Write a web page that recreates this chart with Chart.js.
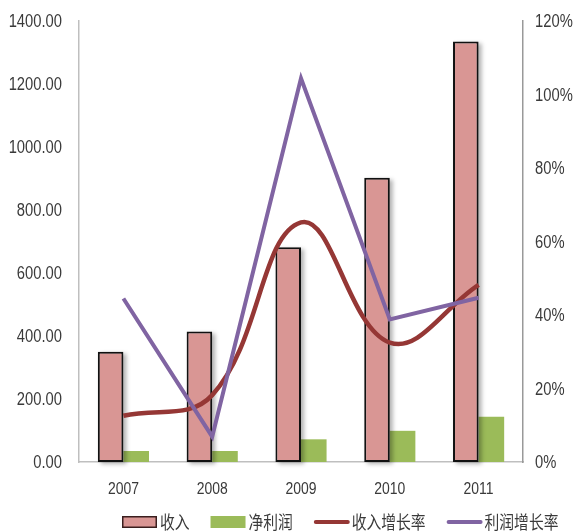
<!DOCTYPE html>
<html>
<head>
<meta charset="utf-8">
<script src="https://cdn.jsdelivr.net/npm/chart.js@4.4.1/dist/chart.umd.min.js"></script>
<style>
  html, body { margin: 0; padding: 0; background: #fff; }
  #wrap { width: 574px; height: 531px; }
</style>
</head>
<body>
<div id="wrap"><canvas id="chart"></canvas></div>
<script>
// 数据
const years = ['2007', '2008', '2009', '2010', '2011'];
const revenue = [350, 414, 682, 902, 1335];        // 收入
const netProfit = [35, 35, 72, 99, 144];            // 净利润
const revenueGrowth = [12.6, 18.2, 65.2, 32.5, 48.2]; // 收入增长率 (%)
const profitGrowth = [44.5, 6.9, 104.4, 38.8, 44.7];  // 利润增长率 (%)
const leftTicks = [0, 200, 400, 600, 800, 1000, 1200, 1400];
const rightTicks = [0, 20, 40, 60, 80, 100, 120];

const tickColor = '#3a3a3a';
const squeeze = 0.82; // 原图文字横向压缩

// 横向压缩的文字
function drawSqueezed(ctx, text, x, y, align) {
  ctx.save();
  ctx.translate(x, y);
  ctx.scale(squeeze, 1);
  ctx.textAlign = align;
  ctx.fillText(text, 0, 0);
  ctx.restore();
}

// 收入 柱子阴影
const barShadow = {
  id: 'barShadow',
  beforeDatasetDraw(chart, args) {
    if (args.index !== 0) return;
    const ctx = chart.ctx;
    ctx.save();
    ctx.filter = 'blur(2px)';
    ctx.fillStyle = 'rgba(0,0,0,0.3)';
    args.meta.data.forEach(bar => {
      const p = bar.getProps(['x', 'y', 'width', 'base'], true);
      ctx.fillRect(p.x - p.width / 2 + 3, p.y + 2, p.width, p.base - p.y);
    });
    ctx.restore();
  }
};

// 坐标轴刻度文字
const axisLabels = {
  id: 'axisLabels',
  afterDraw(chart) {
    const ctx = chart.ctx;
    const { x, y, y1 } = chart.scales;
    ctx.save();
    ctx.fillStyle = tickColor;
    ctx.textBaseline = 'middle';
    ctx.font = "18px 'Liberation Sans', Arial, sans-serif";
    leftTicks.forEach(v => drawSqueezed(ctx, v.toFixed(2), y.right - 17, y.getPixelForValue(v) + 1.5, 'right'));
    rightTicks.forEach(v => drawSqueezed(ctx, v + '%', y1.left + 12, y1.getPixelForValue(v) + 1.5, 'left'));
    ctx.font = "17px 'Liberation Sans', Arial, sans-serif";
    years.forEach((lab, i) => drawSqueezed(ctx, lab, x.getPixelForValue(i), x.top + 27, 'center'));
    ctx.restore();
  }
};

// 底部图例
const bottomLegend = {
  id: 'bottomLegend',
  afterDraw(chart) {
    const ctx = chart.ctx;
    const y = 522;
    let x = 122;
    ctx.save();
    ctx.font = "18px 'Noto Sans CJK SC'";
    ctx.textBaseline = 'middle';
    chart.data.datasets.forEach(ds => {
      if (ds.type === 'line') {
        ctx.strokeStyle = ds.borderColor;
        ctx.lineWidth = 4;
        ctx.lineCap = 'round';
        ctx.beginPath();
        ctx.moveTo(x + 2, y);
        ctx.lineTo(x + 34, y);
        ctx.stroke();
      } else {
        ctx.fillStyle = ds.backgroundColor;
        ctx.fillRect(x, y - 6, 35, 12);
        if (ds.borderWidth) {
          ctx.strokeStyle = '#3a1e1e';
          ctx.lineWidth = 1.5;
          ctx.strokeRect(x + 0.75, y - 5.25, 33.5, 10.5);
        }
      }
      x += 38;
      ctx.fillStyle = tickColor;
      drawSqueezed(ctx, ds.label, x, y, 'left');
      x += ctx.measureText(ds.label).width * squeeze + 21;
    });
    ctx.restore();
  }
};

const chart = new Chart(document.getElementById('chart'), {
  type: 'bar',
  data: {
    labels: years,
    datasets: [
      {
        label: '收入',
        data: revenue,
        backgroundColor: '#D99694',
        borderColor: '#111',
        borderWidth: 2,
        borderSkipped: false,
        yAxisID: 'y',
        order: 2
      },
      {
        label: '净利润',
        data: netProfit,
        backgroundColor: '#9BBB59',
        borderWidth: 0,
        yAxisID: 'y',
        order: 2
      },
      {
        type: 'line',
        label: '收入增长率',
        data: revenueGrowth,
        borderColor: '#953735',
        borderWidth: 4.5,
        pointRadius: 0,
        tension: 0.4,
        yAxisID: 'y1',
        order: 1
      },
      {
        type: 'line',
        label: '利润增长率',
        data: profitGrowth,
        borderColor: '#8064A2',
        borderWidth: 4,
        pointRadius: 0,
        tension: 0,
        yAxisID: 'y1',
        order: 0
      }
    ]
  },
  options: {
    responsive: true,
    maintainAspectRatio: false,
    animation: false,
    datasets: {
      bar: { categoryPercentage: 0.576, barPercentage: 1.0 }
    },
    layout: { padding: { top: 21, left: 0, right: 0, bottom: 0 } },
    plugins: {
      legend: { display: false },
      tooltip: { enabled: false }
    },
    scales: {
      x: {
        grid: { display: false, drawTicks: false },
        border: { color: '#bfbfbf', width: 1.5 },
        ticks: { display: false },
        afterFit: scale => { scale.height = 69; }
      },
      y: {
        position: 'left',
        min: 0,
        max: 1400,
        grid: { display: false, drawTicks: false },
        border: { color: '#bfbfbf', width: 1.5 },
        ticks: { display: false },
        afterFit: scale => { scale.width = 79; }
      },
      y1: {
        position: 'right',
        min: 0,
        max: 120,
        grid: { display: false, drawTicks: false },
        border: { color: '#999', width: 1.5 },
        ticks: { display: false },
        afterFit: scale => { scale.width = 51; }
      }
    }
  },
  plugins: [barShadow, axisLabels, bottomLegend]
});
</script>
</body>
</html>
